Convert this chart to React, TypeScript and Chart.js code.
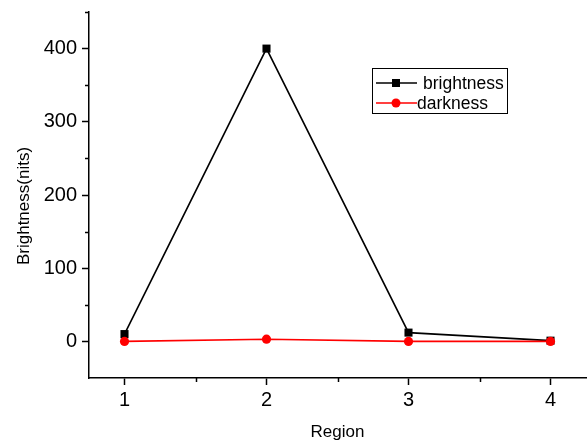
import React, { useEffect, useRef } from "react";
import { Chart, registerables } from "chart.js";
Chart.register(...registerables);

const regions = [1, 2, 3, 4];
const brightness = [10, 400, 12, 1];
const darkness = [0, 3, 0, 0];
const xTicks = [1, 2, 3, 4];
const xMinorTicks = [1.5, 2.5, 3.5];
const yTicks = [0, 100, 200, 300, 400];
const yMinorTicks = [50, 150, 250, 350, 450];
const xTitle = "Region";
const yTitle = "Brightness(nits)";
const seriesNames = ["brightness", "darkness"];

const FONT = "'Liberation Sans', Arial, sans-serif";

const overlay = {
  id: "overlay",
  afterDraw(chart: any) {
    const ctx = chart.ctx;
    const xs = chart.scales.x;
    const ys = chart.scales.y;
    const area = chart.chartArea;
    ctx.save();
    ctx.strokeStyle = "#000";
    ctx.lineWidth = 1.5;
    // minor ticks
    yMinorTicks.forEach((v) => {
      const py = Math.round(ys.getPixelForValue(v)) + 0.5;
      ctx.beginPath();
      ctx.moveTo(area.left - 4, py);
      ctx.lineTo(area.left, py);
      ctx.stroke();
    });
    xMinorTicks.forEach((v) => {
      const px = Math.round(xs.getPixelForValue(v)) + 0.5;
      ctx.beginPath();
      ctx.moveTo(px, area.bottom);
      ctx.lineTo(px, area.bottom + 4);
      ctx.stroke();
    });
    // axis titles
    ctx.fillStyle = "#000";
    ctx.font = `17px ${FONT}`;
    ctx.textAlign = "center";
    ctx.textBaseline = "alphabetic";
    ctx.fillText(xTitle, (area.left + area.right) / 2, 437);
    ctx.save();
    ctx.translate(29, 206);
    ctx.rotate(-Math.PI / 2);
    ctx.fillText(yTitle, 0, 0);
    ctx.restore();
    // legend
    ctx.lineWidth = 1;
    ctx.strokeStyle = "#000";
    ctx.strokeRect(372.5, 68.5, 135, 45);
    const rows = [
      { y: 83, color: "#000", shape: "square", textX: 423, base: 89 },
      { y: 103, color: "#ff0000", shape: "circle", textX: 417, base: 109 },
    ];
    rows.forEach((r, i) => {
      ctx.strokeStyle = r.color;
      ctx.fillStyle = r.color;
      ctx.lineWidth = 1.5;
      ctx.beginPath();
      ctx.moveTo(376, r.y);
      ctx.lineTo(417, r.y);
      ctx.stroke();
      if (r.shape === "square") {
        ctx.fillRect(392, r.y - 4, 8, 8);
      } else {
        ctx.beginPath();
        ctx.arc(396, r.y, 4.5, 0, Math.PI * 2);
        ctx.fill();
      }
      ctx.fillStyle = "#000";
      ctx.font = `17.5px ${FONT}`;
      ctx.textAlign = "left";
      ctx.fillText(seriesNames[i], r.textX, r.base);
    });
    ctx.restore();
  },
};

export default function App() {
  const ref = useRef<HTMLCanvasElement>(null);
  useEffect(() => {
    if (!ref.current) return;
    const chart = new Chart(ref.current, {
      type: "line",
      data: {
        datasets: [
          {
            label: seriesNames[0],
            data: regions.map((r, i) => ({ x: r, y: brightness[i] })),
            borderColor: "#000",
            backgroundColor: "#000",
            borderWidth: 1.6,
            pointStyle: "rect",
            pointRadius: 5.7,
            pointBorderWidth: 0,
            order: 2,
            tension: 0,
          },
          {
            label: seriesNames[1],
            data: regions.map((r, i) => ({ x: r, y: darkness[i] })),
            borderColor: "#ff0000",
            backgroundColor: "#ff0000",
            borderWidth: 1.6,
            pointStyle: "circle",
            pointRadius: 4.6,
            pointBorderWidth: 0,
            order: 1,
            tension: 0,
          },
        ],
      },
      options: {
        responsive: false,
        animation: false,
        layout: { autoPadding: false, padding: { top: 12, right: 1, left: 0, bottom: 0 } },
        plugins: { legend: { display: false }, tooltip: { enabled: false } },
        scales: {
          x: {
            type: "linear",
            min: 0.75,
            max: 4.25,
            afterBuildTicks: (s: any) => {
              s.ticks = xTicks.map((v) => ({ value: v }));
            },
            afterFit: (s: any) => {
              s.height = 65;
              s.paddingLeft = 0;
              s.paddingRight = 0;
            },
            grid: {
              drawOnChartArea: false,
              drawTicks: true,
              tickLength: 7,
              tickWidth: 1.5,
              tickColor: "#000",
            },
            border: { display: true, color: "#000", width: 1.5 },
            ticks: {
              color: "#000",
              font: { family: FONT, size: 20 },
              padding: 3,
              maxRotation: 0,
              callback: (v: any) => String(v),
            },
          },
          y: {
            type: "linear",
            min: -50,
            max: 450,
            afterBuildTicks: (s: any) => {
              s.ticks = yTicks.map((v) => ({ value: v }));
            },
            afterFit: (s: any) => {
              s.width = 89;
              s.paddingTop = 0;
              s.paddingBottom = 0;
            },
            grid: {
              drawOnChartArea: false,
              drawTicks: true,
              tickLength: 7,
              tickWidth: 1.5,
              tickColor: "#000",
            },
            border: { display: true, color: "#000", width: 1.5 },
            ticks: {
              color: "#000",
              font: { family: FONT, size: 20 },
              padding: 5,
              callback: (v: any) => String(v),
            },
          },
        },
      },
      plugins: [overlay],
    });
    return () => chart.destroy();
  }, []);
  return (
    <div style={{ position: "absolute", left: 0, top: 0, width: 587, height: 443, background: "#fff" }}>
      <canvas ref={ref} width={587} height={443} style={{ display: "block", width: 587, height: 443 }} />
    </div>
  );
}
